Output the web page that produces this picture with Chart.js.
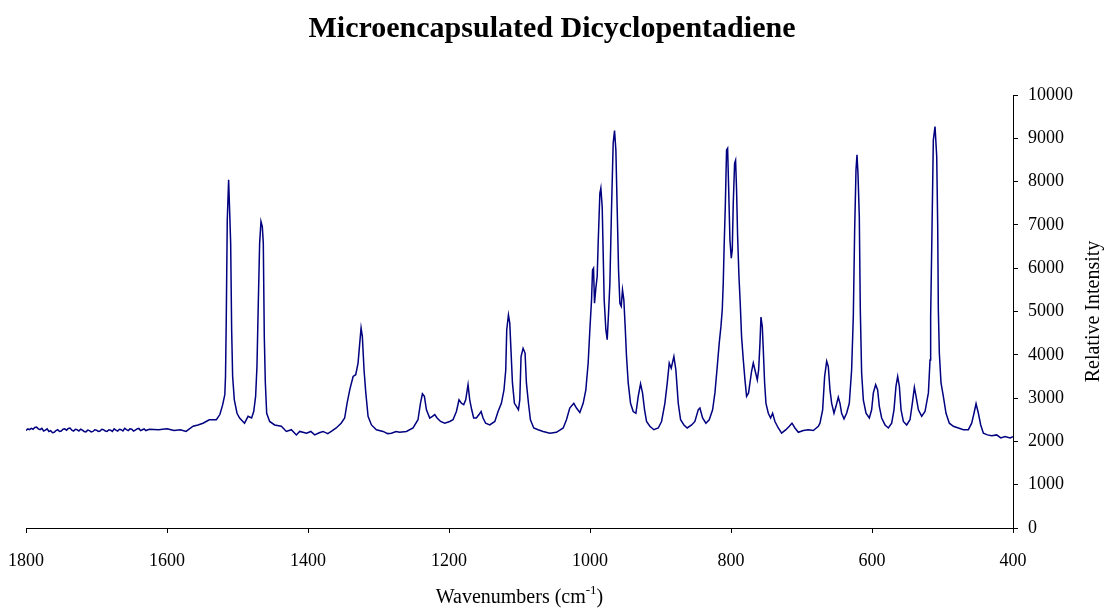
<!DOCTYPE html>
<html>
<head>
<meta charset="utf-8">
<script src="https://cdn.jsdelivr.net/npm/chart.js@4"></script>
<style>
  body { margin: 0; background: #fff; }
  canvas { display: block; }
</style>
</head>
<body>
<canvas id="spectrum" width="1104" height="608"></canvas>
<script>
// Raman spectrum, high wavenumber to low
// flat noisy stretch at the start
var flatWavenumbers = [
  1800, 1797.5, 1795, 1792.5, 1790, 1787.5, 1785, 1782.5, 1780, 1777.5, 1775, 1772.5, 1770, 1767.5, 1765,
  1762.5, 1760, 1757.5, 1755, 1752.5, 1750, 1747.5, 1745, 1742.5, 1740, 1737.5, 1735, 1732.5, 1730, 1727.5,
  1725, 1722.5, 1720, 1717.5, 1715, 1712.5, 1710, 1707.5, 1705, 1702.5, 1700, 1697.5, 1695, 1692.5, 1690,
  1687.5, 1685, 1682.5, 1680, 1677.5, 1675, 1672.5, 1670, 1667.5, 1665, 1662.5, 1660, 1657.5, 1655, 1652.5,
  1650, 1647.5, 1645, 1642.5, 1640, 1637.5, 1635, 1632.5, 1630
];
var flatIntensity = [
  2250, 2290, 2270, 2300, 2280, 2320, 2330, 2290, 2270, 2300, 2240, 2260, 2290, 2230, 2250,
  2200, 2210, 2250, 2270, 2230, 2240, 2280, 2290, 2260, 2300, 2310, 2260, 2240, 2280, 2270,
  2240, 2280, 2260, 2230, 2220, 2260, 2250, 2220, 2230, 2270, 2260, 2230, 2240, 2280, 2270,
  2240, 2230, 2270, 2260, 2230, 2290, 2260, 2240, 2280, 2270, 2240, 2300, 2270, 2250, 2290,
  2280, 2240, 2260, 2290, 2300, 2250, 2270, 2290, 2250
];
// peaks region
var wavenumbers = [
  1625, 1612, 1600, 1590, 1581, 1573, 1563, 1556, 1549, 1540,
  1530, 1525, 1521, 1518, 1517, 1516, 1514.5, 1512.6, 1511.2, 1509.7, 1508.3, 1506.9, 1504.5, 1500.7, 1497,
  1490, 1485, 1480, 1477, 1474.3, 1472.4, 1470.5, 1468.6, 1466.7, 1464.8, 1463.4, 1462, 1460.5, 1458.6, 1454.4,
  1447.3, 1437.8, 1430.7, 1423.6, 1416.5, 1411.8, 1402, 1396, 1390.5, 1384, 1378.7, 1372, 1367, 1360, 1353,
  1348, 1344.6, 1340.8, 1336, 1332.3, 1329, 1326.6, 1324.7, 1322.9, 1320.5, 1318, 1314.8, 1310, 1303, 1293.5,
  1287, 1281.7, 1275, 1270, 1260.4, 1251, 1244, 1240.5, 1237.7, 1234.9, 1232, 1227.3, 1223.5, 1220.2, 1216.9,
  1212, 1206, 1199, 1194.3, 1189.5, 1185.8, 1182.4, 1179.1, 1176.3, 1173, 1170.6, 1167.8, 1165, 1161.2, 1157.4,
  1154.5, 1151.7, 1148, 1142.2, 1135, 1130.4, 1125.7, 1122, 1119.5, 1118.1, 1115.7, 1113.8, 1111.9, 1110, 1107.2,
  1104.4, 1101.5, 1099.6, 1097.8, 1094.9, 1092.1, 1090.2, 1087.3, 1084.5, 1079.8, 1073.6, 1066.5, 1057, 1047.6, 1038,
  1033.4, 1028.7, 1023, 1019.2, 1014.4, 1009.7, 1005.9, 1002.6, 1000.2, 997.8, 996.4, 995, 993.6, 991.7, 989.8,
  988.4, 986, 984.6, 982.7, 981.3, 979.9, 977.5, 975.6, 973.7, 971.8, 969.5, 967.1, 965.2, 963.3, 961.4,
  959.5, 957.6, 955.7, 953.9, 952, 950.1, 948.2, 945.8, 942.5, 938.7, 934.9, 931.6, 928.3, 925.5, 922.6,
  919.8, 915.1, 909.4, 903.2, 898.5, 893.8, 890.4, 887.6, 884.8, 881, 878.2, 874.8, 871.5, 866.8, 862.1,
  855.9, 851.2, 846.5, 844.1, 840.3, 835.6, 830.9, 826.1, 822.8, 819.5, 816.7, 814.3, 812.4, 811, 809.6,
  808.1, 806.3, 804.8, 803.4, 801.5, 799.6, 798.2, 796.8, 794.9, 793.5, 792.1, 790.6, 788.7, 786.9, 785,
  782.6, 780.2, 777.9, 775.1, 773.1, 770.8, 768.4, 766, 762.7, 760.8, 758.9, 757.5, 755.6, 754.2, 752.3,
  750.4, 747.1, 743.8, 741, 737.7, 732.9, 728.2, 722.1, 717.3, 713.5, 709.3, 704.5, 697.4, 690.3, 683.2,
  676.1, 673.8, 670, 667.2, 664.3, 662, 659.6, 657.2, 653.9, 651.1, 647.8, 645.4, 643.1, 639.7, 636,
  632.2, 628.9, 626.5, 624.6, 622.7, 621.3, 619.9, 618, 616.6, 614.7, 612.3, 608.5, 603.8, 600.5, 598.1,
  594.8, 592, 589.6, 586.3, 581.5, 576.8, 572.1, 568.8, 566, 563.6, 561.2, 558.8, 555.5, 550.8, 546.1,
  542.8, 539.9, 537.5, 534.2, 529.5, 524.8, 520, 517.7, 516.8, 514.9, 513, 510.6, 508.2, 506.8, 505.9,
  504.5, 502.1, 498.8, 495, 490.3, 484.6, 477.5, 470.4, 463.3, 458.6, 455.3, 452.4, 449.1, 445.8, 442,
  436.3, 430.2, 423.1, 417.4, 411.3, 404.2, 400
];
var intensity = [
  2280, 2270, 2290, 2250, 2270, 2230, 2350, 2380, 2420, 2500,
  2500, 2620, 2850, 3080, 3500, 4730, 7120, 8040, 7350, 6580, 4580, 3500, 2960, 2650, 2540,
  2420, 2580, 2540, 2690, 3040, 3730, 5190, 6580, 7080, 6960, 6580, 4420, 3350, 2650, 2460,
  2380, 2350, 2230, 2270, 2150, 2230, 2190, 2230, 2150, 2200, 2230, 2180, 2230, 2310, 2420,
  2540, 2880, 3190, 3500, 3540, 3810, 4270, 4620, 4420, 3650, 3120, 2580, 2380, 2270, 2230,
  2180, 2190, 2230, 2210, 2230, 2310, 2500, 2880, 3100, 3040, 2730, 2540, 2580, 2620, 2540,
  2460, 2420, 2460, 2500, 2690, 2960, 2880, 2850, 2960, 3310, 2960, 2730, 2540, 2540, 2620,
  2690, 2540, 2420, 2380, 2460, 2690, 2880, 3190, 3650, 4580, 4920, 4730, 4040, 3350, 2880,
  2810, 2730, 2960, 3960, 4150, 4040, 3350, 2880, 2500, 2310, 2270, 2230, 2190, 2210, 2310,
  2500, 2770, 2880, 2770, 2670, 2880, 3190, 3810, 4580, 5270, 5960, 6000, 5190, 5540, 5810,
  6580, 7730, 7850, 7420, 6350, 5270, 4580, 4350, 4960, 5650, 7350, 8890, 9180, 8730, 7350,
  5960, 5190, 5120, 5500, 5270, 4650, 3960, 3350, 2880, 2690, 2650, 3040, 3330, 3120, 2730,
  2460, 2350, 2270, 2310, 2460, 2880, 3350, 3810, 3690, 3960, 3650, 2880, 2500, 2380, 2310,
  2380, 2460, 2730, 2770, 2540, 2420, 2500, 2730, 3120, 3730, 4270, 4650, 5040, 5650, 6580,
  7420, 8730, 8770, 7890, 6650, 6230, 6420, 7500, 8420, 8490, 7810, 6730, 5810, 5190, 4420,
  3890, 3420, 3040, 3120, 3350, 3620, 3810, 3650, 3420, 3650, 4270, 4870, 4650, 4120, 3350,
  2880, 2650, 2540, 2650, 2460, 2310, 2190, 2270, 2350, 2420, 2310, 2210, 2250, 2270, 2250,
  2350, 2420, 2730, 3500, 3850, 3730, 3190, 2880, 2650, 2810, 3020, 2880, 2650, 2520, 2650,
  2880, 3650, 4890, 6890, 8270, 8620, 8190, 7190, 5040, 3580, 2960, 2650, 2540, 2730, 3120,
  3310, 3190, 2810, 2540, 2380, 2310, 2420, 2730, 3270, 3500, 3270, 2730, 2460, 2380, 2500,
  2880, 3250, 3040, 2730, 2580, 2690, 3120, 3880, 4880, 6890, 8960, 9270, 8580, 6960, 5040,
  4040, 3350, 3040, 2650, 2420, 2350, 2310, 2270, 2270, 2420, 2650, 2870, 2650, 2380, 2190,
  2150, 2130, 2150, 2080, 2110, 2080, 2110
];
var xTicks = [1800, 1600, 1400, 1200, 1000, 800, 600, 400];
var yTicks = [0, 1000, 2000, 3000, 4000, 5000, 6000, 7000, 8000, 9000, 10000];

var chartTitle = 'Microencapsulated Dicyclopentadiene';
var yTitle = 'Relative Intensity';

var allW = flatWavenumbers.concat(wavenumbers);
var allI = flatIntensity.concat(intensity);
var points = allW.map(function (w, i) { return { x: w, y: allI[i] }; });

var serif = '"Liberation Serif", "Times New Roman", serif';

// titles drawn by hand: bottom-to-top y title on the right, superscript in x title
var titlesPlugin = {
  id: 'titles',
  afterDraw: function (chart) {
    var ctx = chart.ctx;
    var area = chart.chartArea;
    ctx.save();
    ctx.fillStyle = '#000';

    ctx.font = 'bold 30px ' + serif;
    ctx.textAlign = 'center';
    ctx.textBaseline = 'middle';
    ctx.fillText(chartTitle, chart.width / 2, 29);

    ctx.font = '20px ' + serif;
    ctx.save();
    ctx.translate(1094, (area.top + area.bottom) / 2);
    ctx.rotate(-Math.PI / 2);
    ctx.fillText(yTitle, 0, 0);
    ctx.restore();

    var a = 'Wavenumbers (cm', sup = '-1', b = ')';
    ctx.textAlign = 'left';
    ctx.textBaseline = 'alphabetic';
    ctx.font = '20px ' + serif;
    var wa = ctx.measureText(a).width, wb = ctx.measureText(b).width;
    ctx.font = '13px ' + serif;
    var ws = ctx.measureText(sup).width;
    var x0 = (area.left + area.right) / 2 - (wa + ws + wb) / 2;
    var base = 603;
    ctx.font = '20px ' + serif;
    ctx.fillText(a, x0, base);
    ctx.font = '13px ' + serif;
    ctx.fillText(sup, x0 + wa, base - 9);
    ctx.font = '20px ' + serif;
    ctx.fillText(b, x0 + wa + ws, base);
    ctx.restore();
  }
};

new Chart(document.getElementById('spectrum'), {
  type: 'line',
  data: {
    datasets: [{
      data: points,
      borderColor: '#000080',
      borderWidth: 1.5,
      pointRadius: 0,
      tension: 0,
      fill: false
    }]
  },
  options: {
    responsive: false,
    animation: false,
    layout: { padding: { top: 95, left: 26, right: 0, bottom: 0 } },
    plugins: { legend: { display: false }, tooltip: { enabled: false } },
    scales: {
      x: {
        type: 'linear',
        reverse: true,
        min: 400,
        max: 1800,
        afterBuildTicks: function (s) { s.ticks = xTicks.map(function (v) { return { value: v }; }); },
        afterFit: function (s) { s.height = 80; s.paddingLeft = 0; s.paddingRight = 0; },
        ticks: {
          color: '#000',
          font: { family: serif, size: 18 },
          padding: 17,
          maxRotation: 0,
          autoSkip: false,
          callback: function (v) { return String(v); }
        },
        grid: { drawOnChartArea: false, drawTicks: true, tickLength: 5, color: '#000' },
        border: { color: '#000', width: 1 }
      },
      y: {
        position: 'right',
        min: 0,
        max: 10000,
        afterBuildTicks: function (s) { s.ticks = yTicks.map(function (v) { return { value: v }; }); },
        afterFit: function (s) { s.width = 91; s.paddingTop = 0; s.paddingBottom = 0; },
        ticks: {
          color: '#000',
          font: { family: serif, size: 18 },
          padding: 10,
          callback: function (v) { return String(v); }
        },
        grid: { drawOnChartArea: false, drawTicks: true, tickLength: 5, color: '#000' },
        border: { color: '#000', width: 1 }
      }
    }
  },
  plugins: [titlesPlugin]
});
</script>
</body>
</html>
